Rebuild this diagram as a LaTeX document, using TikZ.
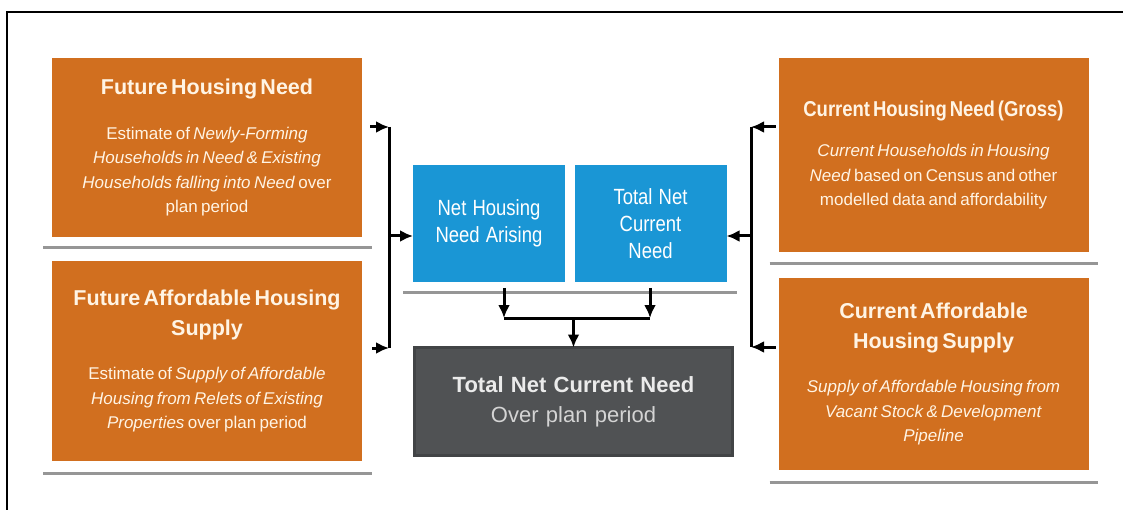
\documentclass[tikz,border=0pt]{standalone}
\usepackage{fontspec}
\setmainfont{Liberation Sans}
\usetikzlibrary{arrows.meta,calc}

\definecolor{boxorange}{RGB}{209,111,31}
\definecolor{boxblue}{RGB}{26,150,213}
\definecolor{boxdark}{RGB}{80,82,84}
\definecolor{boxedge}{RGB}{66,68,70}
\definecolor{cream}{RGB}{255,244,228}
\definecolor{shelfgray}{RGB}{150,150,150}

\newcommand\boxtitle{\fontsize{21.5}{30}\selectfont\bfseries}
\newcommand\boxbody{\fontsize{17}{24.5}\selectfont}

\begin{document}
\begin{tikzpicture}[x=1pt,y=-1pt]
\tikzset{ >={Latex[length=13pt,width=12pt]}, inner sep=0pt, outer sep=0pt,
  obox/.style={fill=boxorange, text=cream, text width=300pt, align=center, minimum width=310pt},
  bbox/.style={fill=boxblue, text=white, text width=150pt, align=center, minimum width=152pt, minimum height=117pt,
    font=\fontsize{22}{27}\selectfont},
  dbox/.style={fill=boxdark, draw=boxedge, line width=3pt, text=white!92!black, text width=315pt, align=center,
    minimum width=318pt, minimum height=108pt, font=\fontsize{22}{30}\selectfont},
  shelf/.style={shelfgray, line width=3pt},
  link/.style={line width=3pt},
  arr/.style={line width=3pt, ->},
}

\useasboundingbox (0,0) rectangle (1123,510);
\draw [line width=2pt] (7,510) -- (7,12) -- (1123,12);

% future side
\node [obox, minimum height=179pt] (FHN) at (207,147.5) {{\boxtitle Future Housing Need\par}\vspace{20pt}%
  {\boxbody Estimate of \textit{Newly-Forming}\\ \textit{Households in Need \& Existing}\\
  \textit{Households falling into Need} over\\ plan period\par}};
\node [obox, minimum height=200pt] (FAHS) at (207,361) {{\boxtitle Future Affordable Housing\\ Supply\par}\vspace{20pt}%
  {\boxbody Estimate of \textit{Supply of Affordable}\\ \textit{Housing from Relets of Existing}\\
  \textit{Properties} over plan period\par}};

% current side
\node [obox, minimum height=194pt] (CHN) at (933.5,155) {{\boxtitle \scalebox{0.86}[1]{Current Housing Need (Gross)}\par}\vspace{16pt}%
  {\boxbody \textit{Current Households in Housing}\\ \textit{Need} based on Census and other\\
  modelled data and affordability\par}};
\node [obox, minimum height=192pt] (CAHS) at (933.5,374) {{\boxtitle Current Affordable\\ Housing Supply\par}\vspace{20pt}%
  {\boxbody \textit{Supply of Affordable Housing from}\\ \textit{Vacant Stock \& Development}\\
  \textit{Pipeline}\par}};

% middle
\node [bbox] (NHNA) at (489,223.5) {\scalebox{0.84}[1]{Net Housing}\\ \scalebox{0.84}[1]{Need Arising}};
\node [bbox] (TNCN) at (650.5,223.5) {\scalebox{0.84}[1]{Total Net}\\ \scalebox{0.84}[1]{Current}\\ \scalebox{0.84}[1]{Need}};
\node [dbox] (TOT) at (573.5,401.5) {\textbf{Total Net Current Need}\\ {\color{white!83!black}Over plan period}};

% shelves under the boxes
\draw [shelf] ($(FHN.south west)+(-9,11)$)  -- ($(FHN.south east)+(10,11)$);
\draw [shelf] ($(FAHS.south west)+(-9,12)$) -- ($(FAHS.south east)+(10,12)$);
\draw [shelf] ($(CHN.south west)+(-9,12)$)  -- ($(CHN.south east)+(9,12)$);
\draw [shelf] ($(CAHS.south west)+(-9,12)$) -- ($(CAHS.south east)+(9,12)$);
\draw [shelf] ($(NHNA.south west)+(-10,11)$) -- ($(TNCN.south east)+(10,11)$);

% brackets
\coordinate (LT) at (389,127);
\coordinate (LM) at (389,236);
\coordinate (LB) at (389,348);
\coordinate (RT) at (751,127);
\coordinate (RM) at (751,236);
\coordinate (RB) at (751,347);

\draw [link] (LT) -- (LB);
\draw [arr, shorten <=8pt] (FHN.east |- LT) -- (LT);
\draw [arr, shorten <=10pt] (FAHS.east |- LB) -- (LB);
\draw [arr] (LM) -- (LM -| NHNA.west);

\draw [link] (RT) -- (RB);
\draw [arr, shorten <=3pt] (CHN.west |- RT) -- (RT);
\draw [arr, shorten <=3pt] (CAHS.west |- RB) -- (RB);
\draw [arr] (RM) -- (RM -| TNCN.east);

% join down to the total
\coordinate (JL) at (504,318);
\coordinate (JR) at (650,318);
\coordinate (JM) at (573.5,318);

\draw [arr, shorten <=6pt] (JL |- NHNA.south) -- (JL);
\draw [arr, shorten <=6pt] (JR |- TNCN.south) -- (JR);
\draw [link] (JL) -- (JR);
\draw [arr] (JM) -- (TOT.north);

\end{tikzpicture}
\end{document}
